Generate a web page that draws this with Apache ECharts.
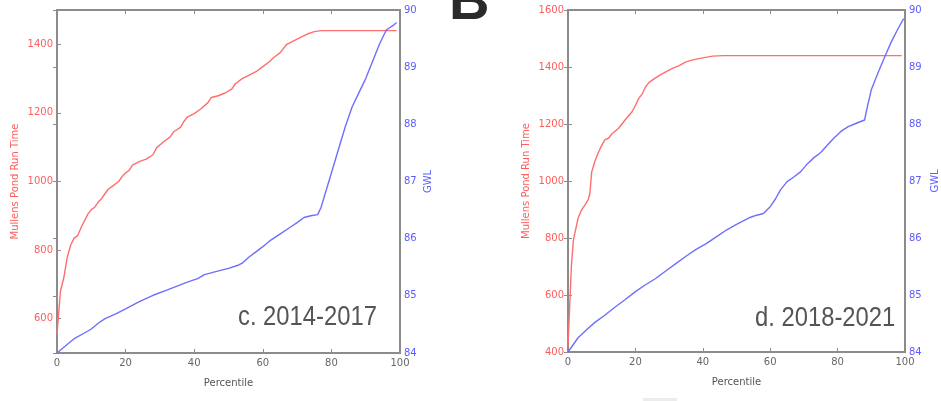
<!DOCTYPE html>
<html>
<head>
<meta charset="utf-8">
<script src="https://cdn.jsdelivr.net/npm/echarts@6/dist/echarts.min.js"></script>
<style>
html,body{margin:0;padding:0;background:#fff;}
#chart{width:941px;height:401px;}
</style>
</head>
<body>
<div id="chart"></div>
<script>
// Panel c. 2014-2017
const pctRun1 = [0,1,2,3,4,5,6,7,8,9,10,11,12,13,14,15,16,18,19,20,21,22,24,26,28,29,31,33,34,36,37,38,40,42,44,45,47,49,51,52,54,56,58,60,62,63,65,67,69,71,73,75,77,99];
const runTime1 = [555,680,720,780,815,835,842,865,885,905,918,925,940,950,965,978,985,1000,1015,1025,1032,1048,1058,1065,1078,1098,1115,1130,1145,1158,1175,1188,1198,1212,1230,1245,1250,1258,1270,1285,1300,1310,1320,1335,1350,1360,1375,1400,1410,1420,1430,1437,1440,1440];
const pctGwl1 = [0,2,4,5,8,10,12,14,17,20,24,28,32,35,38,41,43,46,50,53,54,56,58,60,62,65,68,70,72,74,76,77,78,80,82,84,86,88,90,92,94,96,98,99];
const gwl1 = [84.0,84.1,84.2,84.25,84.35,84.42,84.52,84.6,84.68,84.77,84.9,85.01,85.1,85.17,85.24,85.3,85.37,85.42,85.48,85.54,85.57,85.68,85.77,85.86,85.96,86.08,86.2,86.28,86.37,86.4,86.42,86.55,86.75,87.15,87.55,87.95,88.3,88.55,88.8,89.1,89.4,89.65,89.73,89.78];

// Panel d. 2018-2021
const pctRun2 = [0,0.5,1,1.6,2,3,4,5,6,6.5,7,8,9,10,11,12,13,15,17,19,20,21,22,23,24,25,27,29,31,33,35,37,40,43,46,99];
const runTime2 = [420,560,700,793,815,870,898,915,935,957,1030,1070,1100,1125,1145,1150,1165,1185,1215,1243,1265,1290,1305,1330,1345,1354,1370,1383,1395,1405,1418,1425,1432,1438,1440,1440];
const pctGwl2 = [0,3,5.5,8,11,14,17,20,23,26,29,32,35,38,41,44,47,50,52,54,56,58,60,61.5,63,65,67,69,71,73,75,77,79,81,83,85,88,89,90,91,92,94,96,98,99.6];
const gwl2 = [84.0,84.25,84.39,84.52,84.65,84.79,84.92,85.06,85.18,85.29,85.42,85.55,85.68,85.8,85.9,86.02,86.14,86.24,86.3,86.36,86.4,86.43,86.55,86.68,86.84,86.99,87.07,87.16,87.3,87.41,87.5,87.63,87.76,87.87,87.95,88.0,88.07,88.35,88.6,88.75,88.9,89.18,89.45,89.68,89.85];

const xTicks = [0,20,40,60,80,100];
const runTicks1 = [600,800,1000,1200,1400];
const runTicks2 = [400,600,800,1000,1200,1400,1600];
const gwlTicks = [84,85,86,87,88,89,90];
const panelLabels = ['c. 2014-2017','d. 2018-2021'];
const runName = 'Mullens Pond Run Time';
const gwlName = 'GWL';
const xName = 'Percentile';

const RED = '#ff6e6e', RED_T = '#ff5c5c', BLUE = '#6e6eff', BLUE_T = '#5c5cff', AX = '#8c8c8c';
const FONT = 'DejaVu Sans';
const plain = v => String(v);

function zip(a,b){return a.map((v,i)=>[v,b[i]]);}

const chart = echarts.init(document.getElementById('chart'), null, {renderer:'canvas'});

const grids = [
  {left:57, top:10, width:343, height:343},
  {left:568, top:10, width:340, height:342}
];
const gridOpt = grids.map(g=>Object.assign({show:true, borderColor:AX, borderWidth:2, backgroundColor:'transparent'}, g));

const tickStyle = {show:true, inside:true, length:4, lineStyle:{color:AX}};
const xAxes = [];
const yAxes = [];
[0,1].forEach(i=>{
  xAxes.push({
    type:'value', gridIndex:i, min:0, max:100, position:'bottom',
    name:xName, nameLocation:'middle', nameGap:25,
    nameTextStyle:{color:'#555', fontSize:10, fontFamily:FONT},
    axisLine:{show:true, lineStyle:{color:AX, width:2}},
    axisTick:Object.assign({customValues:xTicks}, tickStyle),
    axisLabel:{color:'#666', fontSize:10, fontFamily:FONT, margin:5, customValues:xTicks, formatter:plain},
    splitLine:{show:false}
  });
  xAxes.push({
    type:'value', gridIndex:i, min:0, max:100, position:'top',
    axisLine:{show:true, lineStyle:{color:AX, width:2}},
    axisTick:Object.assign({customValues:xTicks}, tickStyle),
    axisLabel:{show:false}, splitLine:{show:false}
  });
});
function leftAxis(grid, min, max, ticks){
  return {
    type:'value', gridIndex:grid, min:min, max:max, position:'left',
    name:runName, nameLocation:'middle', nameGap:37, nameRotate:90,
    nameTextStyle:{color:RED_T, fontSize:10, fontFamily:FONT},
    axisLine:{show:true, lineStyle:{color:AX, width:2}},
    axisTick:Object.assign({customValues:ticks}, tickStyle),
    axisLabel:{color:RED_T, fontSize:10, fontFamily:FONT, margin:4, customValues:ticks, formatter:plain},
    splitLine:{show:false}
  };
}
function rightAxis(grid, gap){
  return {
    type:'value', gridIndex:grid, min:84, max:90, position:'right',
    name:gwlName, nameLocation:'middle', nameGap:gap, nameRotate:90,
    nameTextStyle:{color:BLUE_T, fontSize:10, fontFamily:FONT},
    axisLine:{show:true, lineStyle:{color:AX, width:2}},
    axisTick:Object.assign({customValues:gwlTicks}, tickStyle),
    axisLabel:{color:BLUE_T, fontSize:10, fontFamily:FONT, margin:4, customValues:gwlTicks, formatter:plain},
    splitLine:{show:false}
  };
}
yAxes.push(leftAxis(0, 500, 1500, runTicks1));
yAxes.push(rightAxis(0, 23));
yAxes.push(leftAxis(1, 400, 1600, runTicks2));
yAxes.push(rightAxis(1, 25));

const lineBase = {type:'line', showSymbol:false, symbol:'none', smooth:false, animation:false};
const series = [
  Object.assign({}, lineBase, {xAxisIndex:0, yAxisIndex:0, data:zip(pctRun1, runTime1), lineStyle:{color:RED, width:1.4}}),
  Object.assign({}, lineBase, {xAxisIndex:0, yAxisIndex:1, data:zip(pctGwl1, gwl1), lineStyle:{color:BLUE, width:1.4}}),
  Object.assign({}, lineBase, {xAxisIndex:2, yAxisIndex:2, data:zip(pctRun2, runTime2), lineStyle:{color:RED, width:1.4}}),
  Object.assign({}, lineBase, {xAxisIndex:2, yAxisIndex:3, data:zip(pctGwl2, gwl2), lineStyle:{color:BLUE, width:1.4}})
];

const graphic = [
  {type:'text', x:449, y:4, style:{x:0, y:0, text:'B', fill:'#2a2a2a', font:'bold 56px "Liberation Sans", sans-serif', verticalAlign:'middle', align:'left'}, z:10},
  {type:'text', x:238, y:317, scaleX:0.85, style:{x:0, y:0, text:panelLabels[0], fill:'#555', font:'28px "Liberation Sans", sans-serif', verticalAlign:'middle', align:'left'}, z:10},
  {type:'text', x:755, y:318, scaleX:0.85, style:{x:0, y:0, text:panelLabels[1], fill:'#555', font:'28px "Liberation Sans", sans-serif', verticalAlign:'middle', align:'left'}, z:10},
  {type:'rect', shape:{x:643, y:398, width:34, height:3}, style:{fill:'#ececec'}, z:1}
];

chart.setOption({
  animation:false,
  backgroundColor:'#fff',
  grid:gridOpt,
  xAxis:xAxes,
  yAxis:yAxes,
  series:series,
  graphic:graphic
});
</script>
</body>
</html>
